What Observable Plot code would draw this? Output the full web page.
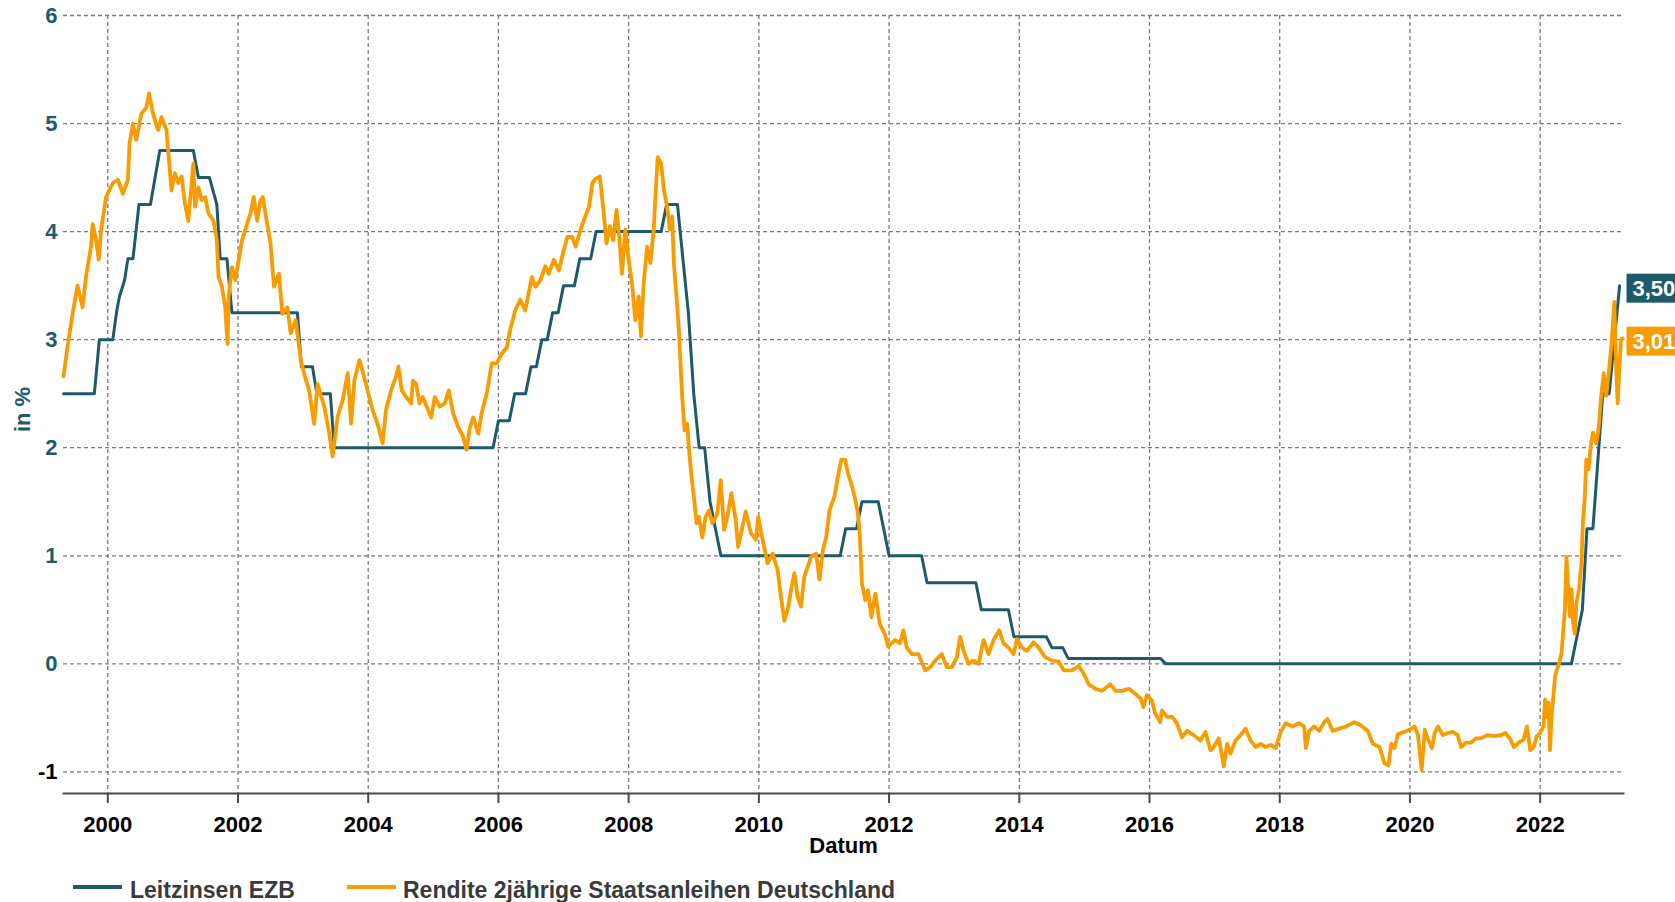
<!DOCTYPE html>
<html>
<head>
<meta charset="utf-8">
<script src="https://cdn.jsdelivr.net/npm/d3@7"></script>
<script src="https://cdn.jsdelivr.net/npm/@observablehq/plot@0.6"></script>
<style>
  body { margin: 0; background: #fff; font-family: "Liberation Sans", Arial, sans-serif; }
  #wrap { position: relative; width: 1675px; height: 902px; overflow: hidden; background: #fff; }
  .sw { position: absolute; height: 4px; top: 885px; }
  .lt { position: absolute; top: 879px; font-size: 23px; line-height: 23px; font-weight: bold; color: #3a3a3a; white-space: nowrap; }
</style>
</head>
<body>
<div id="wrap">
  <div id="chart"></div>
  <div id="legend"></div>
</div>
<script>
// ---------- data ----------
const xDomain = [1999.32, 2023.28];
const yDomain = [-1.2, 6];
const xTicks = [2000, 2002, 2004, 2006, 2008, 2010, 2012, 2014, 2016, 2018, 2020, 2022];
const yTicks = [-1, 0, 1, 2, 3, 4, 5, 6];
const seriesNames = ["Leitzinsen EZB", "Rendite 2jährige Staatsanleihen Deutschland"];
const endLabelTexts = ["3,50", "3,01"];
const endLabelValues = [3.50, 3.01];

// ECB main refinancing rate (decimal year, %)
const ecbPoints = [
  [1999.32, 2.5], [1999.794, 2.5], [1999.871, 3.0], [2000.077, 3.0], [2000.139, 3.27], [2000.18, 3.4],
  [2000.258, 3.55], [2000.309, 3.75], [2000.387, 3.75], [2000.479, 4.25], [2000.655, 4.25], [2000.799, 4.75],
  [2001.314, 4.75], [2001.392, 4.5], [2001.562, 4.5], [2001.675, 4.25], [2001.727, 3.75], [2001.83, 3.75],
  [2001.907, 3.25], [2002.912, 3.25], [2002.974, 2.75], [2003.144, 2.75], [2003.211, 2.5], [2003.418, 2.5],
  [2003.479, 2.0], [2005.917, 2.0], [2006.0, 2.25], [2006.167, 2.25], [2006.25, 2.5], [2006.417, 2.5],
  [2006.5, 2.75], [2006.583, 2.75], [2006.667, 3.0], [2006.75, 3.0], [2006.833, 3.25], [2006.917, 3.25],
  [2007.0, 3.5], [2007.167, 3.5], [2007.25, 3.75], [2007.417, 3.75], [2007.5, 4.0], [2008.5, 4.0],
  [2008.583, 4.25], [2008.75, 4.25], [2008.833, 3.75], [2008.917, 3.25], [2009.0, 2.5], [2009.083, 2.0],
  [2009.167, 2.0], [2009.25, 1.5], [2009.333, 1.25], [2009.417, 1.0], [2011.25, 1.0], [2011.333, 1.25],
  [2011.5, 1.25], [2011.583, 1.5], [2011.833, 1.5], [2011.917, 1.25], [2012.0, 1.0], [2012.5, 1.0],
  [2012.583, 0.75], [2013.333, 0.75], [2013.417, 0.5], [2013.833, 0.5], [2013.917, 0.25], [2014.417, 0.25],
  [2014.5, 0.15], [2014.667, 0.15], [2014.75, 0.05], [2016.167, 0.05], [2016.25, 0.0], [2022.48, 0.0],
  [2022.648, 0.5], [2022.719, 1.25], [2022.81, 1.25], [2022.901, 2.0], [2022.962, 2.5], [2023.06, 2.5],
  [2023.14, 3.0], [2023.22, 3.5]
];

// 2-year German government bond yield (decimal year, %)
const bundPoints = [
  [1999.32, 2.66], [1999.381, 2.93], [1999.459, 3.24], [1999.536, 3.50], [1999.613, 3.30], [1999.665, 3.58],
  [1999.742, 3.86], [1999.768, 4.07], [1999.820, 3.92], [1999.861, 3.74], [1999.897, 4.01], [1999.974, 4.32],
  [2000.077, 4.45], [2000.155, 4.48], [2000.232, 4.35], [2000.309, 4.48], [2000.335, 4.82], [2000.387, 5.00],
  [2000.438, 4.85], [2000.515, 5.09], [2000.593, 5.15], [2000.634, 5.28], [2000.696, 5.09], [2000.773, 4.94],
  [2000.825, 5.06], [2000.902, 4.94], [2000.928, 4.75], [2000.979, 4.38],
  [2001.031, 4.54], [2001.082, 4.45], [2001.134, 4.51], [2001.186, 4.26], [2001.237, 4.10], [2001.314, 4.63],
  [2001.340, 4.23], [2001.392, 4.41], [2001.443, 4.29], [2001.495, 4.32], [2001.546, 4.17], [2001.624, 4.10],
  [2001.675, 3.92], [2001.701, 3.58], [2001.753, 3.49], [2001.804, 3.30], [2001.840, 2.96], [2001.856, 3.40],
  [2001.907, 3.67], [2001.959, 3.55],
  [2002.062, 3.92], [2002.139, 4.07], [2002.191, 4.17], [2002.242, 4.32], [2002.294, 4.10], [2002.345, 4.29],
  [2002.381, 4.32], [2002.448, 4.07], [2002.500, 3.89], [2002.552, 3.49], [2002.629, 3.61], [2002.680, 3.24],
  [2002.758, 3.30], [2002.809, 3.06], [2002.887, 3.18], [2002.964, 2.81],
  [2003.041, 2.63], [2003.093, 2.53], [2003.170, 2.22], [2003.222, 2.59], [2003.325, 2.38], [2003.402, 2.13],
  [2003.454, 1.92], [2003.531, 2.29], [2003.608, 2.44], [2003.686, 2.69], [2003.737, 2.22], [2003.789, 2.63],
  [2003.866, 2.81], [2003.918, 2.70], [2003.990, 2.53],
  [2004.067, 2.35], [2004.144, 2.22], [2004.222, 2.04], [2004.273, 2.35], [2004.351, 2.53], [2004.428, 2.66],
  [2004.464, 2.75], [2004.515, 2.53], [2004.582, 2.47], [2004.660, 2.41], [2004.686, 2.62], [2004.737, 2.59],
  [2004.789, 2.41], [2004.840, 2.47], [2004.918, 2.35], [2004.969, 2.28],
  [2005.021, 2.47], [2005.098, 2.38], [2005.175, 2.41], [2005.237, 2.53], [2005.304, 2.32], [2005.381, 2.19],
  [2005.459, 2.10], [2005.510, 1.98], [2005.562, 2.19], [2005.613, 2.28], [2005.691, 2.13], [2005.742, 2.32],
  [2005.820, 2.50], [2005.897, 2.78], [2005.974, 2.78],
  [2006.052, 2.87], [2006.129, 2.93], [2006.180, 3.09], [2006.258, 3.27], [2006.335, 3.37], [2006.412, 3.27],
  [2006.464, 3.43], [2006.515, 3.58], [2006.567, 3.49], [2006.644, 3.55], [2006.722, 3.68], [2006.773, 3.61],
  [2006.851, 3.74], [2006.928, 3.64], [2006.979, 3.77],
  [2007.057, 3.95], [2007.134, 3.95], [2007.186, 3.86], [2007.263, 4.02], [2007.314, 4.11], [2007.392, 4.23],
  [2007.443, 4.45], [2007.495, 4.49], [2007.557, 4.51], [2007.608, 4.23], [2007.660, 3.89], [2007.711, 4.05],
  [2007.763, 3.92], [2007.814, 4.20], [2007.856, 3.95], [2007.897, 3.61], [2007.949, 4.02],
  [2008.000, 3.74], [2008.051, 3.52], [2008.103, 3.18], [2008.154, 3.40], [2008.190, 3.03], [2008.231, 3.52],
  [2008.283, 3.86], [2008.334, 3.71], [2008.386, 4.02], [2008.411, 4.32], [2008.447, 4.69], [2008.499, 4.63],
  [2008.540, 4.39], [2008.591, 4.23], [2008.632, 4.02], [2008.668, 4.14], [2008.694, 3.71], [2008.735, 3.40],
  [2008.771, 3.09], [2008.797, 2.78], [2008.823, 2.47], [2008.859, 2.16], [2008.900, 2.22], [2008.925, 2.00],
  [2008.961, 1.76],
  [2009.003, 1.54], [2009.044, 1.30], [2009.080, 1.36], [2009.131, 1.17], [2009.183, 1.36], [2009.234, 1.42],
  [2009.285, 1.30], [2009.362, 1.39], [2009.414, 1.70], [2009.465, 1.24], [2009.517, 1.36], [2009.578, 1.58],
  [2009.645, 1.33], [2009.681, 1.08], [2009.748, 1.27], [2009.799, 1.41], [2009.877, 1.21], [2009.954, 1.15],
  [2009.990, 1.36],
  [2010.057, 1.15], [2010.134, 0.93], [2010.211, 1.02], [2010.288, 0.87], [2010.339, 0.62], [2010.391, 0.40],
  [2010.442, 0.50], [2010.494, 0.68], [2010.545, 0.84], [2010.596, 0.62], [2010.648, 0.53], [2010.699, 0.81],
  [2010.751, 0.90], [2010.802, 0.99], [2010.879, 1.02], [2010.931, 0.78], [2010.982, 1.05],
  [2011.033, 1.17], [2011.085, 1.42], [2011.162, 1.55], [2011.213, 1.73], [2011.265, 1.89], [2011.326, 1.89],
  [2011.368, 1.76], [2011.419, 1.67], [2011.470, 1.55], [2011.522, 1.39], [2011.548, 1.21], [2011.584, 0.74],
  [2011.635, 0.59], [2011.676, 0.68], [2011.728, 0.43], [2011.789, 0.65], [2011.856, 0.37], [2011.933, 0.28],
  [2011.985, 0.16],
  [2012.092, 0.22], [2012.169, 0.19], [2012.221, 0.31], [2012.272, 0.15], [2012.349, 0.09], [2012.451, 0.09],
  [2012.554, -0.06], [2012.631, -0.03], [2012.708, 0.03], [2012.810, 0.09], [2012.887, -0.03], [2012.964, -0.03],
  [2013.041, 0.06], [2013.092, 0.25], [2013.144, 0.12], [2013.221, 0.00], [2013.297, 0.03], [2013.374, 0.00],
  [2013.451, 0.22], [2013.528, 0.09], [2013.605, 0.22], [2013.692, 0.31], [2013.759, 0.19], [2013.836, 0.15],
  [2013.913, 0.09], [2013.964, 0.23],
  [2014.041, 0.15], [2014.118, 0.12], [2014.221, 0.20], [2014.297, 0.15], [2014.400, 0.06], [2014.503, 0.03],
  [2014.605, 0.02], [2014.682, -0.06], [2014.810, -0.06], [2014.913, -0.02], [2014.990, -0.09],
  [2015.067, -0.19], [2015.169, -0.23], [2015.272, -0.25], [2015.400, -0.19], [2015.477, -0.25], [2015.579, -0.25],
  [2015.682, -0.23], [2015.785, -0.28], [2015.862, -0.32], [2015.907, -0.40], [2015.959, -0.29],
  [2016.036, -0.34], [2016.087, -0.46], [2016.165, -0.54], [2016.190, -0.43], [2016.267, -0.49], [2016.344, -0.49],
  [2016.422, -0.55], [2016.499, -0.68], [2016.576, -0.62], [2016.679, -0.66], [2016.781, -0.71], [2016.859, -0.63],
  [2016.936, -0.80], [2016.987, -0.77],
  [2017.064, -0.69], [2017.116, -0.86], [2017.141, -0.95], [2017.193, -0.74], [2017.244, -0.83], [2017.321, -0.71],
  [2017.398, -0.66], [2017.476, -0.60], [2017.553, -0.71], [2017.630, -0.77], [2017.707, -0.74], [2017.784, -0.77],
  [2017.861, -0.75], [2017.938, -0.78],
  [2018.015, -0.63], [2018.093, -0.55], [2018.195, -0.58], [2018.298, -0.55], [2018.375, -0.58], [2018.401, -0.78],
  [2018.452, -0.62], [2018.530, -0.58], [2018.607, -0.62], [2018.684, -0.54], [2018.735, -0.51], [2018.812, -0.62],
  [2018.915, -0.60],
  [2019.018, -0.58], [2019.147, -0.54], [2019.249, -0.57], [2019.352, -0.62], [2019.429, -0.74], [2019.532, -0.77],
  [2019.609, -0.92], [2019.671, -0.94], [2019.712, -0.74], [2019.764, -0.78], [2019.815, -0.65], [2019.918, -0.63],
  [2020.021, -0.60], [2020.072, -0.58], [2020.123, -0.66], [2020.180, -0.98], [2020.228, -0.61], [2020.278, -0.70],
  [2020.339, -0.78], [2020.380, -0.64], [2020.430, -0.58], [2020.506, -0.66], [2020.582, -0.64], [2020.658, -0.63],
  [2020.734, -0.66], [2020.785, -0.77], [2020.861, -0.73], [2020.937, -0.73],
  [2021.013, -0.69], [2021.089, -0.69], [2021.190, -0.66], [2021.291, -0.67], [2021.392, -0.66], [2021.468, -0.64],
  [2021.544, -0.70], [2021.595, -0.77], [2021.671, -0.73], [2021.747, -0.70], [2021.797, -0.58], [2021.848, -0.80],
  [2021.899, -0.77], [2021.949, -0.67],
  [2022.000, -0.64], [2022.051, -0.58], [2022.076, -0.33], [2022.101, -0.49], [2022.127, -0.36], [2022.152, -0.80],
  [2022.177, -0.46], [2022.203, -0.30], [2022.228, -0.12], [2022.253, -0.06], [2022.294, 0.01], [2022.329, 0.10],
  [2022.354, 0.31], [2022.380, 0.50], [2022.405, 0.99], [2022.430, 0.69], [2022.456, 0.44], [2022.481, 0.69],
  [2022.506, 0.38], [2022.532, 0.28], [2022.557, 0.56], [2022.597, 0.69], [2022.633, 0.93], [2022.658, 1.33],
  [2022.684, 1.52], [2022.709, 1.89], [2022.744, 1.80], [2022.775, 2.01], [2022.810, 2.14], [2022.861, 2.04],
  [2022.896, 2.17], [2022.937, 2.48], [2022.977, 2.69],
  [2023.013, 2.48], [2023.053, 2.69], [2023.089, 2.91], [2023.114, 3.12], [2023.139, 3.35], [2023.165, 2.79],
  [2023.190, 2.41], [2023.215, 2.72], [2023.241, 3.00], [2023.27, 3.01]
];

// ---------- styles ----------
const teal = "#1d5a6a";
const orange = "#f99c00";
const colors = [teal, orange];
const font = "'Liberation Sans', Arial, sans-serif";

const ecb = ecbPoints.map(([x, y]) => ({x, y}));
const bund = bundPoints.map(([x, y]) => ({x, y}));
const labels = endLabelValues.map((v, i) => ({y: v, text: endLabelTexts[i], color: colors[i]}));

const gridStyle = {stroke: "#7a7a7a", strokeOpacity: 1, strokeWidth: 1.3, strokeDasharray: "4,3"};

const chart = Plot.plot({
  width: 1675,
  height: 870,
  marginLeft: 63,
  marginRight: 52,
  marginTop: 15,
  marginBottom: 77,
  style: {fontFamily: font, fontSize: "22px", fontWeight: "bold", background: "white", overflow: "visible"},
  x: {type: "linear", domain: xDomain},
  y: {type: "linear", domain: yDomain},
  marks: [
    Plot.gridY(yTicks, gridStyle),
    Plot.gridX(xTicks, gridStyle),
    Plot.frame({anchor: "bottom", stroke: "#4a4a4a", strokeWidth: 2}),
    Plot.axisX(xTicks, {
      tickSize: 10, tickPadding: 13, tickFormat: d => String(d),
      stroke: "#4a4a4a", strokeWidth: 2, fill: "black",
      label: "Datum", labelAnchor: "center", labelOffset: 59, labelArrow: "none"
    }),
    Plot.axisY(yTicks, {
      tickSize: 0, tickPadding: 6, tickFormat: d => String(d),
      fill: d => (d < 0 ? "black" : teal), label: null
    }),
    Plot.text(["in %"], {frameAnchor: "left", textAnchor: "middle", dx: -41, dy: 5, rotate: -90, fill: teal, fontSize: 22, fontWeight: "bold"}),
    Plot.line(ecb, {x: "x", y: "y", stroke: teal, strokeWidth: 3}),
    Plot.line(bund, {x: "x", y: "y", stroke: orange, strokeWidth: 3.8, strokeLinejoin: "round"}),
    Plot.text(labels, {
      y: "y", text: "text", frameAnchor: "right", dx: 9, dy: 3, textAnchor: "start",
      fill: "white", fontSize: 22, fontWeight: "bold", className: "endlab"
    })
  ]
});

document.getElementById("chart").appendChild(chart);

// background boxes for end labels
const labTexts = chart.querySelectorAll("g.endlab text");
labTexts.forEach((t, i) => {
  const bb = t.getBBox();
  const cy = bb.y + bb.height / 2;
  const r = document.createElementNS("http://www.w3.org/2000/svg", "rect");
  r.setAttribute("x", bb.x - 6);
  r.setAttribute("y", cy - 14.5);
  r.setAttribute("width", bb.width + 14);
  r.setAttribute("height", 29);
  r.setAttribute("fill", labels[i].color);
  const tf = t.getAttribute("transform");
  if (tf) r.setAttribute("transform", tf);
  t.parentNode.insertBefore(r, t);
});

// legend
const legend = document.getElementById("legend");
const swX = [73, 347];
const txX = [130, 403];
seriesNames.forEach((name, i) => {
  const sw = document.createElement("div");
  sw.className = "sw";
  sw.style.left = swX[i] + "px";
  sw.style.width = "49px";
  sw.style.background = colors[i];
  legend.appendChild(sw);
  const tx = document.createElement("div");
  tx.className = "lt";
  tx.style.left = txX[i] + "px";
  tx.textContent = name;
  legend.appendChild(tx);
});
</script>
</body>
</html>
